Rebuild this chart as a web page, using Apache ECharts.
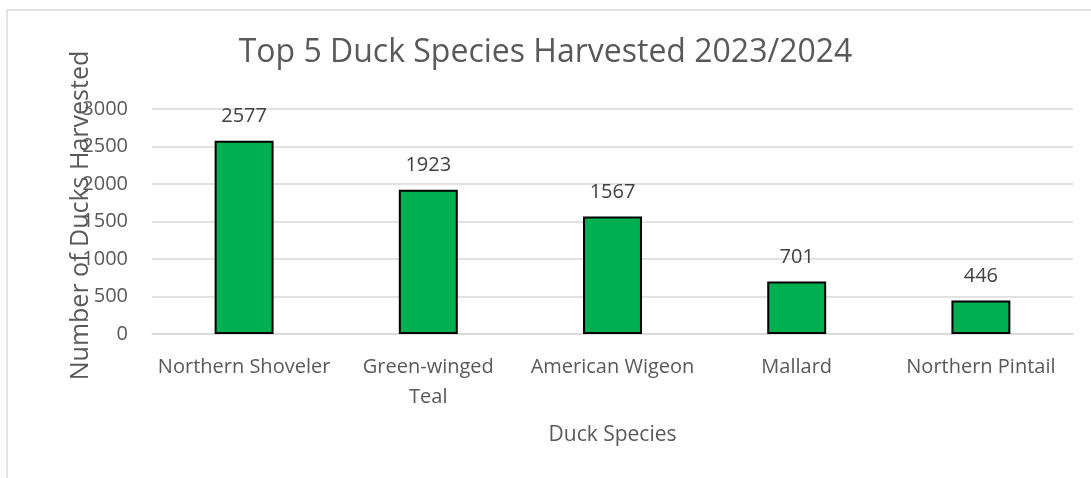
<!DOCTYPE html>
<html>
<head>
<meta charset="utf-8">
<script src="https://cdn.jsdelivr.net/npm/echarts@6/dist/echarts.min.js"></script>
<style>
  html, body { margin: 0; padding: 0; background: #fff; }
  #chart { width: 1091px; height: 478px; }
</style>
</head>
<body>
<div id="chart"></div>
<script>
var species = ['Northern Shoveler', 'Green-winged Teal', 'American Wigeon', 'Mallard', 'Northern Pintail'];
var harvested = [2577, 1923, 1567, 701, 446];
var yTicks = [0, 500, 1000, 1500, 2000, 2500, 3000];

var font = '"Open Sans", sans-serif';
var chart = echarts.init(document.getElementById('chart'));

chart.setOption({
  backgroundColor: '#fff',
  animation: false,
  title: {
    text: 'Top 5 Duck Species Harvested 2023/2024',
    left: 'center',
    top: 32,
    textStyle: { fontFamily: font, fontSize: 32, fontWeight: 'normal', color: '#595959' }
  },
  graphic: [{
    type: 'rect',
    shape: { x: 7, y: 10, width: 1100, height: 480 },
    style: { fill: 'none', stroke: '#d9d9d9', lineWidth: 1.5 },
    silent: true
  }],
  grid: { left: 152, right: 18, top: 109, bottom: 144 },
  xAxis: {
    type: 'category',
    data: species,
    name: 'Duck Species',
    nameLocation: 'middle',
    nameGap: 91,
    nameMoveOverlap: false,
    nameTextStyle: { fontFamily: font, fontSize: 21, color: '#595959' },
    axisLine: { lineStyle: { color: '#d9d9d9', width: 1.5 } },
    axisTick: { show: false },
    axisLabel: {
      interval: 0,
      margin: 18,
      fontFamily: font,
      fontSize: 20,
      lineHeight: 30,
      color: '#595959',
      formatter: function (v) { return v === 'Green-winged Teal' ? 'Green-winged\nTeal' : v; }
    }
  },
  yAxis: {
    type: 'value',
    min: yTicks[0],
    max: yTicks[yTicks.length - 1],
    interval: yTicks[1] - yTicks[0],
    name: 'Number of Ducks Harvested',
    nameLocation: 'middle',
    nameRotate: 90,
    nameGap: 59,
    nameMoveOverlap: false,
    nameTextStyle: { fontFamily: font, fontSize: 25, color: '#595959', padding: [0, 0, 0, 12] },
    axisLine: { show: false },
    axisTick: { show: false },
    axisLabel: {
      margin: 24,
      fontFamily: font,
      fontSize: 20,
      color: '#595959',
      formatter: function (v) { return String(v); }
    },
    splitLine: { lineStyle: { color: '#d9d9d9', width: 1.5 } }
  },
  series: [{
    type: 'bar',
    data: harvested,
    barWidth: '32%',
    itemStyle: { color: '#00b050', borderColor: '#000', borderWidth: 2 },
    label: {
      show: true,
      position: 'top',
      distance: 14,
      fontFamily: font,
      fontSize: 20,
      color: '#404040'
    }
  }]
});
</script>
</body>
</html>
